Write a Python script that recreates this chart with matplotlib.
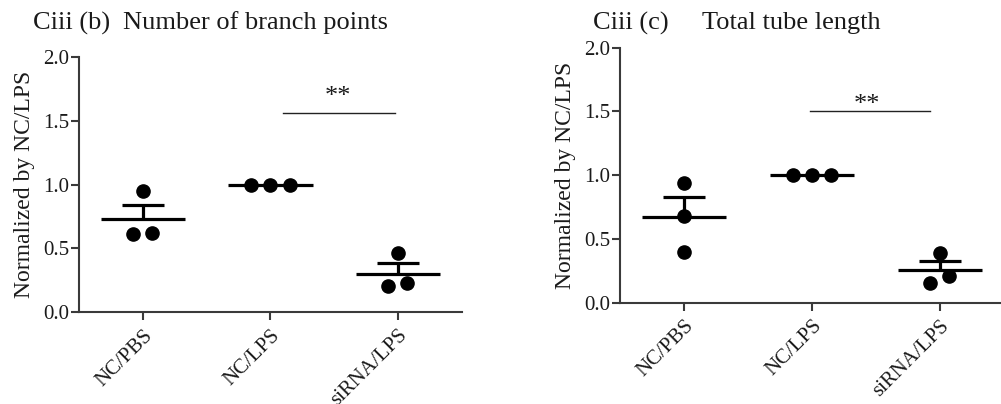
import matplotlib
matplotlib.use("Agg")
import matplotlib.pyplot as plt
import numpy as np

plt.rcParams['font.family'] = ['Liberation Serif', 'DejaVu Serif']

categories = ["NC/PBS", "NC/LPS", "siRNA/LPS"]

# Panel (b): Number of branch points
branch_vals = [[0.95, 0.61, 0.62], [1.0, 1.0, 1.0], [0.465, 0.204, 0.23]]
branch_offsets = [[0.0, -0.08, 0.07], [-0.15, 0.0, 0.15], [0.0, -0.08, 0.07]]
branch_sig = (1.10, 1.976, 1.564)
branch_star = (1.53, 1.64)

# Panel (c): Total tube length
tube_vals = [[0.941, 0.68, 0.40], [1.0, 1.0, 1.0], [0.392, 0.157, 0.209]]
tube_offsets = [[0.0, 0.0, 0.0], [-0.15, 0.0, 0.15], [0.0, -0.08, 0.07]]
tube_sig = (0.982, 1.92, 1.506)
tube_star = (1.43, 1.50)

W, H = 1001, 404
fig = plt.figure(figsize=(W / 100, H / 100), dpi=100)

spine_col = '#3a3a3a'


def make_panel(rect, vals, offsets, sig, star, label_prefix, title, title_x, prefix_x):
    ax = fig.add_axes(rect)
    for i, (v, o) in enumerate(zip(vals, offsets)):
        v = np.array(v)
        xs = i + np.array(o)
        ax.plot(xs, v, 'o', color='black', markersize=9.5, zorder=3, clip_on=False)
        m = v.mean()
        sem = v.std(ddof=1) / np.sqrt(len(v))
        ax.plot([i - 0.33, i + 0.33], [m, m], color='black', lw=2.3, solid_capstyle='butt', zorder=2)
        if sem > 1e-6:
            ax.plot([i, i], [m, m + sem], color='black', lw=2.3, solid_capstyle='butt', zorder=2)
            ax.plot([i - 0.165, i + 0.165], [m + sem, m + sem], color='black', lw=2.3,
                    solid_capstyle='butt', zorder=2)
    x0, x1, ys = sig
    ax.plot([x0, x1], [ys, ys], color='#222222', lw=1.0)
    ax.text(star[0], star[1], '**', ha='center', va='baseline', fontsize=19, color='#1a1a1a')
    ax.set_xlim(-0.5, 2.5)
    ax.set_ylim(0, 2.0)
    ax.set_yticks([0, 0.5, 1.0, 1.5, 2.0])
    ax.set_yticklabels(['0.0', '0.5', '1.0', '1.5', '2.0'])
    ax.set_xticks(range(len(categories)))
    ax.set_xticklabels(categories, rotation=45, ha='right', rotation_mode='anchor')
    for s in ['top', 'right']:
        ax.spines[s].set_visible(False)
    for s in ['left', 'bottom']:
        ax.spines[s].set_color(spine_col)
        ax.spines[s].set_linewidth(1.5)
    ax.tick_params(axis='both', colors=spine_col, width=1.5, length=6, labelsize=15,
                   labelcolor='#1a1a1a', direction='out')
    ax.tick_params(axis='y', pad=1)
    ax.tick_params(axis='x', pad=4)
    ax.set_ylabel('Normalized by NC/LPS', fontsize=17, color='#1a1a1a', labelpad=6)
    fig.text(prefix_x / W, 1 - 23 / H, label_prefix, fontsize=19, va='center', ha='left', color='#1a1a1a')
    fig.text(title_x / W, 1 - 23 / H, title, fontsize=19, va='center', ha='left', color='#1a1a1a')
    return ax


make_panel([79 / W, (H - 312) / H, 383 / W, 255 / H], branch_vals, branch_offsets, branch_sig,
           branch_star, 'Ciii (b)', 'Number of branch points', 123, 33)
make_panel([620 / W, (H - 302.7) / H, 384 / W, 255 / H], tube_vals, tube_offsets, tube_sig,
           tube_star, 'Ciii (c)', 'Total tube length', 702, 593)

fig.savefig('out.png', dpi=100)
